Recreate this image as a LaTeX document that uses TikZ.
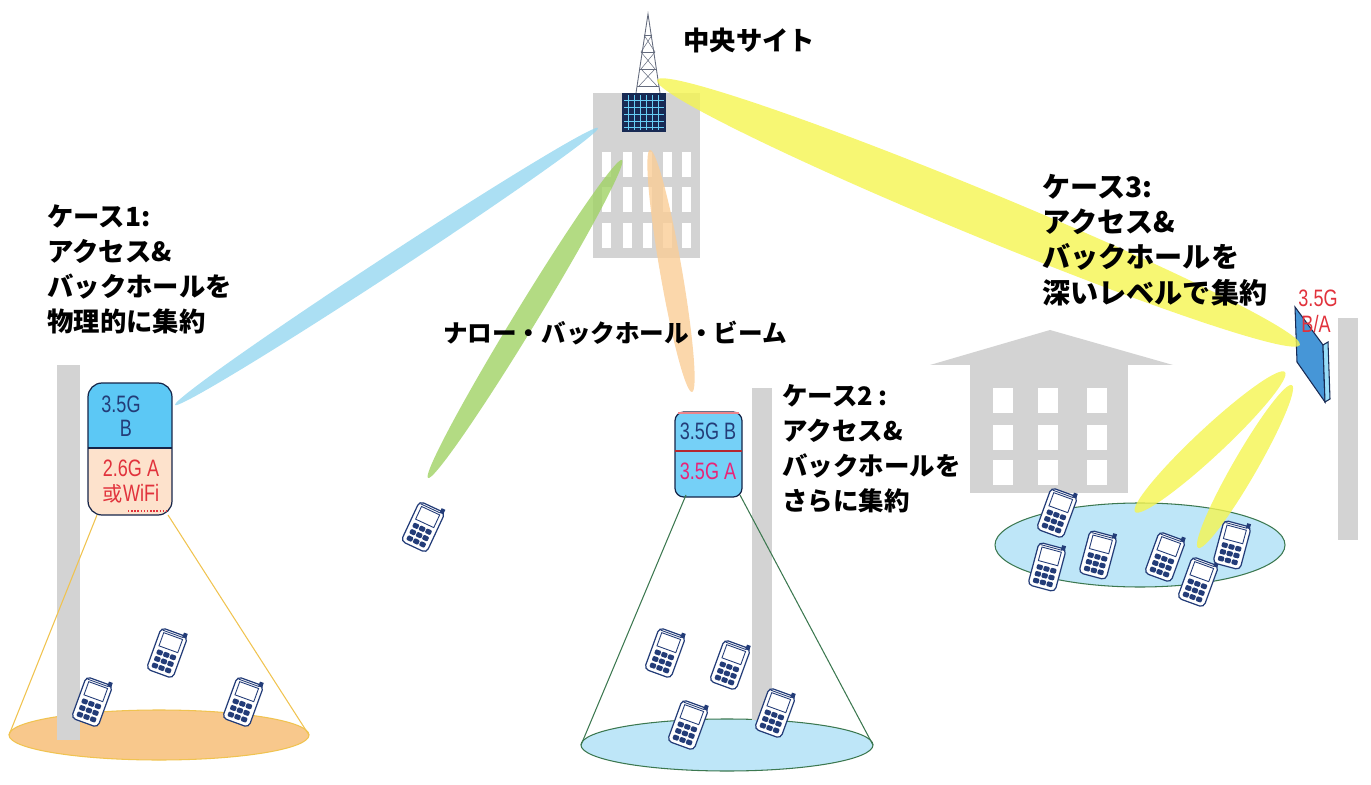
\documentclass[tikz,border=0pt]{standalone}
\usepackage{fontspec}
\usepackage{tikz}
\usetikzlibrary{calc}
\newfontfamily\jpfont{Noto Sans CJK JP}
\newfontfamily\narrowfont{Liberation Sans}[FakeStretch=0.76]

\definecolor{wall}{RGB}{211,211,211}
\definecolor{navy}{RGB}{35,60,120}
\definecolor{skyfill}{RGB}{92,200,245}
\definecolor{peach}{RGB}{253,226,204}
\definecolor{padfill}{RGB}{190,230,248}
\definecolor{padline}{RGB}{60,120,80}
\definecolor{sandfill}{RGB}{248,200,140}
\definecolor{sandline}{RGB}{240,195,80}
\definecolor{beamblue}{RGB}{150,215,240}
\definecolor{beamgreen}{RGB}{160,210,100}
\definecolor{beamorange}{RGB}{250,205,150}
\definecolor{beamyellow}{RGB}{245,245,80}
\definecolor{labelred}{RGB}{225,50,60}
\definecolor{panelblue}{RGB}{70,150,215}

\tikzset{
  casetext/.style={anchor=north west,inner sep=0pt,align=left,
    font=\jpfont\bfseries\fontsize{15}{20}\selectfont},
  bandtext/.style={inner sep=0pt,font=\narrowfont\fontsize{13.5}{15}\selectfont},
  pole/.style={fill=wall},
}

\begin{document}
\begin{tikzpicture}[x=0.2mm,y=-0.2mm]
\newcommand{\phone}[3]{%
\begin{scope}[shift={(#1,#2)},rotate=#3]
  \filldraw[fill=white,draw=navy,line width=0.7pt,rounded corners=2.5pt] (-14,-22) rectangle (14,22);
  \draw[navy,line width=0.5pt] (-10,-18) rectangle (10,-4);
  \draw[navy,line width=0.5pt] (-12,-20)--(10,-20);
  \fill[navy] (9,-25) rectangle (13,-20);
  \foreach \i in {-7,0,7}
    \foreach \j in {2,9,16}
      \fill[navy,rounded corners=0.6pt] (\i-3,\j-2.5) rectangle (\i+3,\j+2.5);
\end{scope}}
\newcommand{\beam}[4]{% from, to, half width, colour
  \fill[#4,opacity=0.8] let \p1=($(#2)-(#1)$), \n1={atan2(\y1,\x1)}, \n2={veclen(\x1,\y1)/2}
    in ($(#1)!0.5!(#2)$) ellipse[x radius=\n2, y radius=#3, rotate=\n1];}

\useasboundingbox (0,0) rectangle (1371,785);

% central site: building, rooftop array and mast
\fill[wall] (593,93) rectangle (700,258);
\foreach \x in {602,623,643,663,682}
  \foreach \y in {152,187,223}
    \fill[white] (\x,\y) rectangle ++(9,25);
\draw[gray!70!navy,line width=0.5pt] (636,93)--(648,14)--(660,93);
\foreach \y/\w in {35/4,52/7,69/9,86/11}
  \draw[gray!70!navy,line width=0.4pt] (648-\w,\y)--(648+\w,\y);
\draw[gray!70!navy,line width=0.3pt] (644,35)--(655,52)--(641,69)--(657,86)
  (652,35)--(641,52)--(655,69)--(639,86);
\fill[navy!70!black] (622,93) rectangle (666,132);
\foreach \x in {628,634,640,646,652,658}
  \draw[cyan!60,line width=0.4pt] (\x,95)--(\x,130);
\foreach \y in {100,107,114,121,127}
  \draw[cyan!60,line width=0.3pt] (624,\y)--(664,\y);
\coordinate (hubL) at (598,128);
\coordinate (hubG) at (622,160);
\coordinate (hubO) at (650,150);
\coordinate (hubY) at (657,80);

% case 3 house
\fill[wall] (930,365)--(1050,330)--(1173,365)--cycle;
\fill[wall] (970,365) rectangle (1128,493);
\foreach \x in {993,1038,1087}
  \foreach \y in {388,425,460}
    \fill[white] (\x,\y) rectangle ++(20,25);

% coverage areas
\filldraw[fill=sandfill,draw=sandline,line width=0.6pt] (159,735) ellipse (150 and 25);
\filldraw[fill=padfill,draw=padline,line width=0.6pt] (727,745) ellipse (146 and 26);
\filldraw[fill=padfill,draw=padline,line width=0.6pt] (1140,545) ellipse (145 and 42);

% poles
\fill[pole] (57,365) rectangle (80,740);
\fill[pole] (752,388) rectangle (772,720);
\fill[pole] (1338,318) rectangle (1358,540);

% case 1 box
\coordinate (box1) at (130,449);
\begin{scope}
  \clip[rounded corners=8pt] (88,383) rectangle (172,515);
  \fill[peach] (88,383) rectangle (172,515);
  \fill[skyfill] (88,383) rectangle (172,448);
\end{scope}
\draw[navy!60!black,line width=0.7pt,rounded corners=8pt] (88,383) rectangle (172,515);
\draw[navy!60!black,line width=0.7pt] (88,448)--(172,448);
\draw[labelred,densely dotted,line width=0.8pt] (128,511)--(168,511);
\node[bandtext,text=navy] (b1top) at (121,404) {3.5G};
\node[bandtext,text=navy] (b1bot) at (126,428) {B};
\node[bandtext,text=labelred] (a1top) at (131,468) {2.6G A};
\node[bandtext,text=labelred] (a1bot) at (131,494) {{\jpfont\fontsize{11.5}{13}\selectfont 或}WiFi};

% case 2 box
\coordinate (box2) at (708,455);
\fill[skyfill!85!white,rounded corners=5pt] (675,412) rectangle (742,497);
\draw[navy!60!black,line width=0.7pt,rounded corners=5pt] (675,412) rectangle (742,497);
\draw[labelred!80!black,line width=1pt] (675,451)--(742,451);
\draw[labelred!60,line width=0.6pt] (678,413)--(739,413);
\node[bandtext,text=navy] (b2) at (708,431) {3.5G B};
\node[bandtext,text=labelred!70!magenta] (a2) at (708,471) {3.5G A};

% case 3 panel
\filldraw[fill=panelblue,draw=navy!70!black,line width=0.6pt]
  (1295,307)--(1323,345)--(1325,402)--(1297,362)--cycle;
\filldraw[fill=cyan!40,draw=navy!70!black,line width=0.6pt]
  (1323,345)--(1328,342)--(1330,399)--(1325,402)--cycle;
\node[bandtext,text=labelred] (b3) at (1318,298) {3.5G};
\node[bandtext,text=labelred] (a3) at (1316,324) {B/A};
\coordinate (pan1) at (1285,372);
\coordinate (pan2) at (1292,385);

% cones
\coordinate (c1l) at (97,515);
\coordinate (c1r) at (168,515);
\coordinate (c2l) at (686,495);
\coordinate (c2r) at (740,495);
\draw[sandline,line width=0.6pt] (c1l)--(9,735) (c1r)--(309,735);
\draw[padline,line width=0.6pt] (c2l)--(581,745) (c2r)--(873,745);

% beams
\coordinate (tip1) at (175,405);
\coordinate (tipN) at (428,478);
\coordinate (tip2) at (692,392);
\coordinate (tip3) at (1300,345);
\coordinate (tipA) at (1135,512);
\coordinate (tipB) at (1198,548);
\beam{hubL}{tip1}{1.8mm}{beamblue}
\beam{hubG}{tipN}{2.2mm}{beamgreen}
\beam{hubO}{tip2}{2.2mm}{beamorange}
\beam{hubY}{tip3}{4.6mm}{beamyellow}
\beam{pan1}{tipA}{2.8mm}{beamyellow}
\beam{pan2}{tipB}{2.4mm}{beamyellow}

% terminals
\phone{167}{653}{-20}
\phone{92}{702}{-20}
\phone{243}{702}{-20}
\phone{423}{527}{-25}
\phone{665}{653}{-20}
\phone{730}{665}{-20}
\phone{688}{725}{-20}
\phone{775}{713}{-20}
\phone{1057}{513}{-20}
\phone{1047}{567}{-15}
\phone{1098}{555}{-15}
\phone{1165}{557}{-20}
\phone{1198}{582}{-20}
\phone{1232}{545}{-15}

% labels
\node[anchor=west,inner sep=0pt,font=\jpfont\bfseries\fontsize{15}{18}\selectfont] (hubname) at (683,40) {中央サイト};
\node[inner sep=0pt,font=\jpfont\bfseries\fontsize{14}{18}\selectfont] (narrow) at (615,333) {ナロー・バックホール・ビーム};
\node[casetext] (case1) at (47,204) {ケース1:\\アクセス\&\\バックホールを\\物理的に集約};
\node[casetext,font=\jpfont\bfseries\fontsize{14.5}{20}\selectfont] (case2) at (782,384) {ケース2 :\\アクセス\&\\バックホールを\\さらに集約};
\node[casetext,font=\jpfont\bfseries\fontsize{16}{20}\selectfont] (case3) at (1042,174) {ケース3:\\アクセス\&\\バックホールを\\深いレベルで集約};
\end{tikzpicture}
\end{document}
